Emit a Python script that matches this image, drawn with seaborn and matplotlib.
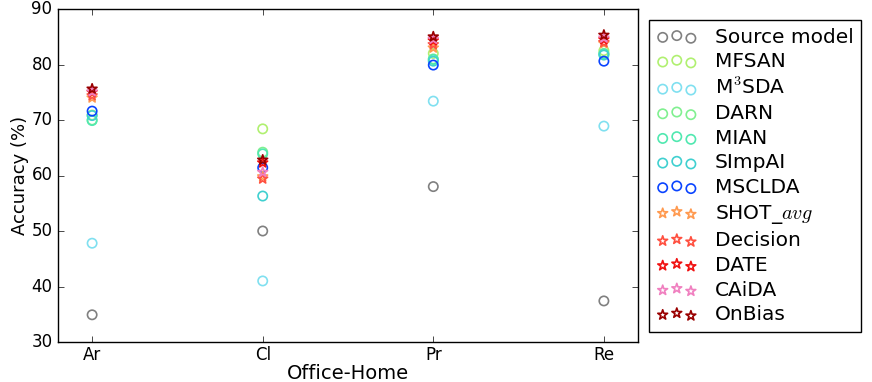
import matplotlib
matplotlib.use("Agg")
import matplotlib.pyplot as plt
import seaborn as sns
import pandas as pd

domains = ["Ar", "Cl", "Pr", "Re"]
methods = ["Source model", "MFSAN", "M$^3$SDA", "DARN", "MIAN", "SImpAI", "MSCLDA",
           "SHOT_$avg$", "Decision", "DATE", "CAiDA", "OnBias"]
source_model = [34.9, 50.0, 58.0, 37.4]
mfsan = [70.9, 68.4, 82.0, 82.5]
m3sda = [47.8, 41.0, 73.4, 68.9]
darn = [70.0, 64.2, 81.0, 82.0]
mian = [69.9, 63.9, 80.9, 81.9]
simpai = [70.8, 56.3, 80.6, 81.7]
msclda = [71.6, 61.4, 79.9, 80.6]
shot_avg = [74.0, 59.8, 83.0, 83.8]
decision = [74.4, 59.4, 83.6, 84.0]
date = [75.0, 62.3, 84.3, 84.5]
caida = [75.1, 60.6, 84.6, 84.8]
onbias = [75.6, 62.8, 85.0, 85.3]

series = [source_model, mfsan, m3sda, darn, mian, simpai, msclda,
          shot_avg, decision, date, caida, onbias]
colors = ["#808080", "#b0f070", "#80e0f0", "#80f090", "#50e8b0", "#40d0d0", "#0a44ff",
          "#ff9a50", "#ff5040", "#f01010", "#f080c0", "#990000"]
markers = ["o"] * 7 + ["*"] * 5

plt.style.use("classic")
plt.rcParams["font.family"] = ["DejaVu Sans"]
plt.rcParams["mathtext.fontset"] = "cm"
plt.rcParams["figure.facecolor"] = "white"

fig = plt.figure(figsize=(8.72, 3.82), dpi=100)
ax = fig.add_axes([58 / 872, 40 / 382, 580 / 872, 333 / 382])

for name, vals, c, m in zip(methods, series, colors, markers):
    df = pd.DataFrame({"Domain": domains, "Acc": vals})
    sns.scatterplot(data=df, x="Domain", y="Acc", ax=ax, marker=m,
                    s=45 if m == "o" else 55, label=name, legend=False)
    coll = ax.collections[-1]
    coll.set_facecolor("none")
    coll.set_edgecolor(c)
    coll.set_linewidth(1.2)

ax.set_xlim(-0.2, 3.2)
ax.set_ylim(30, 90)
ax.set_yticks([30, 40, 50, 60, 70, 80, 90])
ax.tick_params(labelsize=12)
ax.tick_params(axis="x", pad=3)
ax.set_xlabel("Office-Home", fontsize=14, labelpad=0)
ax.set_ylabel("Accuracy (%)", fontsize=13, labelpad=2)

handles = ax.collections[:len(methods)]
leg = ax.legend(handles, methods, loc="upper left",
                bbox_to_anchor=(649 / 872, 1 - 20 / 382), bbox_transform=fig.transFigure,
                borderaxespad=0, scatterpoints=3, fontsize=14.5, frameon=True, fancybox=False,
                labelspacing=0.28, handletextpad=0.9, borderpad=0.38)
leg.get_frame().set_edgecolor("black")

fig.savefig("out.png", dpi=100, facecolor="white")
